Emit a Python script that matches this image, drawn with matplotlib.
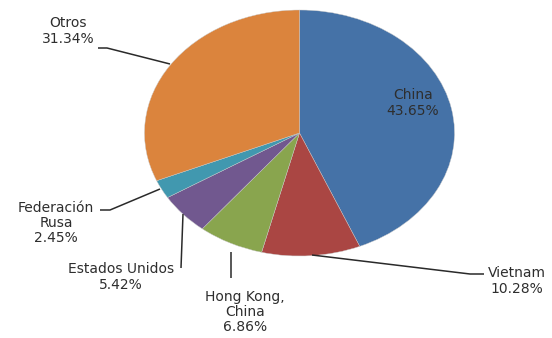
import matplotlib
matplotlib.use("Agg")
import matplotlib.pyplot as plt

# Export share by destination (%)
countries = ["China", "Vietnam", "Hong Kong,\nChina", "Estados Unidos", "Federación\nRusa", "Otros"]
shares = [43.65, 10.28, 6.86, 5.42, 2.45, 31.34]
colors = ["#4572A7", "#AA4643", "#89A54E", "#71588F", "#4198AF", "#DB843D"]

W, H = 552, 338
CX, CY, RX, RY = 299.5, 133.0, 155.0, 123.0


def px(x, y):
    """Pixel position -> axes data units (ellipse radius = 1)."""
    return (x - CX) / RX, (CY - y) / RY


fig = plt.figure(figsize=(W / 100, H / 100), dpi=100)
ax = fig.add_axes([0, 0, 1, 1])
ax.pie(shares, colors=colors, startangle=90, counterclock=False,
       radius=1.0, center=(0, 0),
       wedgeprops=dict(linewidth=0.3, edgecolor="#c8c8c8"))
ax.set_aspect("auto")
x0, _ = px(0, 0)
x1, _ = px(W, 0)
_, y0 = px(0, H)
_, y1 = px(0, 0)
ax.set_xlim(x0, x1)
ax.set_ylim(y0, y1)
ax.axis("off")

# label text centres and leader lines (pixel space)
label_pos = [(413, 103), (517, 281), (245, 312), (121, 277), (56, 223), (68, 31)]
leaders = [
    None,
    [(312, 255), (470, 274), (484, 274)],
    [(231, 252), (231, 278)],
    [(183, 214), (181, 268)],
    [(160, 189), (110, 210), (100, 210)],
    [(170, 64), (107, 48), (98, 48)],
]

for name, val, (lx, ly), lead in zip(countries, shares, label_pos, leaders):
    tx, ty = px(lx, ly)
    ax.text(tx, ty, f"{name}\n{val:.2f}%", ha="center", va="center",
            fontsize=10, color="#2e2e2e", family="DejaVu Sans",
            linespacing=1.1)
    if lead:
        pts = [px(a, b) for a, b in lead]
        ax.plot([p[0] for p in pts], [p[1] for p in pts],
                color="#2a2a2a", lw=1.1, solid_capstyle="butt")

fig.savefig("out.png", dpi=100, facecolor="white")
